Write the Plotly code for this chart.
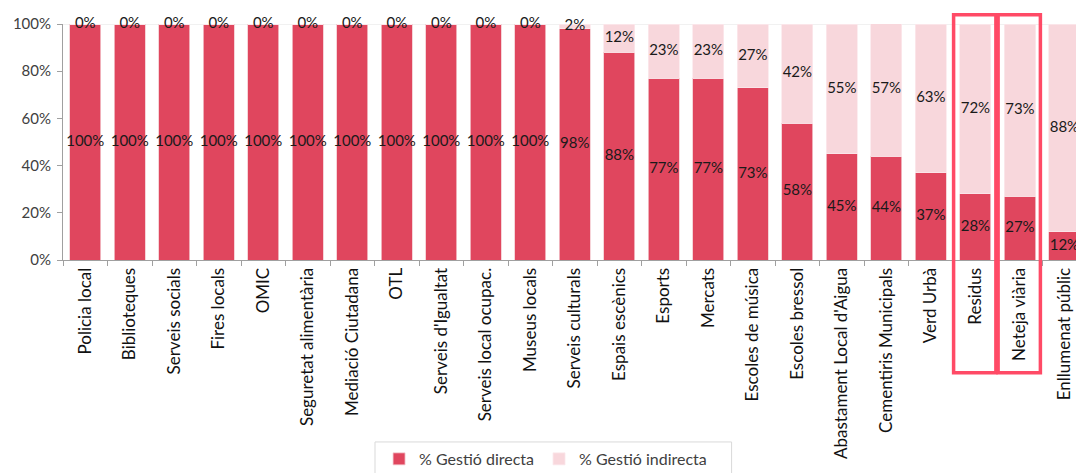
import plotly.graph_objects as go

categories = [
    "Policia local", "Biblioteques", "Serveis socials", "Fires locals", "OMIC",
    "Seguretat alimentària", "Mediació Ciutadana", "OTL", "Serveis d'Igualtat",
    "Serveis local ocupac.", "Museus locals", "Serveis culturals", "Espais escènics",
    "Esports", "Mercats", "Escoles de música", "Escoles bressol",
    "Abastament Local d'Aigua", "Cementiris Municipals", "Verd Urbà", "Residus",
    "Neteja viària", "Enllumenat públic",
]
directa = [100, 100, 100, 100, 100, 100, 100, 100, 100, 100, 100,
           98, 88, 77, 77, 73, 58, 45, 44, 37, 28, 27, 12]
indirecta = [0, 0, 0, 0, 0, 0, 0, 0, 0, 0, 0,
             2, 12, 23, 23, 27, 42, 55, 57, 63, 72, 73, 88]
highlighted = ["Residus", "Neteja viària"]

RED = "#E0465E"
PINK = "#F8D7DC"
FONT = "Lato"

fig = go.Figure()
fig.add_trace(go.Bar(x=categories, y=directa, name="% Gestió directa",
                     marker=dict(color=RED, line=dict(color="#F4C9D0", width=0.8))))
fig.add_trace(go.Bar(x=categories, y=indirecta, name="% Gestió indirecta",
                     marker=dict(color=PINK, line=dict(color="#FBE9EC", width=0.8))))

# value labels in the middle of each segment
fig.add_trace(go.Scatter(
    x=categories, y=[d / 2 for d in directa], mode="text",
    text=[f"{d}%" for d in directa], textfont=dict(family=FONT, size=15, color="#1a1a1a"),
    showlegend=False, cliponaxis=False, hoverinfo="skip"))
fig.add_trace(go.Scatter(
    x=categories, y=[d + i / 2 for d, i in zip(directa, indirecta)], mode="text",
    text=[f"{i}%" for i in indirecta], textfont=dict(family=FONT, size=15, color="#1a1a1a"),
    showlegend=False, cliponaxis=False, hoverinfo="skip"))

# boxes around the highlighted services
for name in highlighted:
    idx = categories.index(name)
    fig.add_shape(type="rect", xref="x", yref="paper",
                  x0=idx - 0.49, x1=idx + 0.46, y0=-0.478, y1=1.039,
                  line=dict(color="#FF4A66", width=3.5))

fig.add_shape(type="line", xref="paper", yref="y", x0=0, x1=1, y0=100, y1=100,
              line=dict(color="#E3E3E3", width=1), layer="below")
# legend frame
fig.add_shape(type="rect", xref="paper", yref="paper", x0=0.308, x1=0.660,
              y0=-0.98, y1=-0.771, line=dict(color="#D9D9D9", width=1))

fig.update_layout(
    width=1076, height=473,
    barmode="stack", bargap=0.30,
    margin=dict(l=63, r=0, t=24, b=213, autoexpand=False),
    plot_bgcolor="white", paper_bgcolor="white",
    font=dict(family=FONT, size=15, color="#404040"),
    legend=dict(orientation="h", traceorder="normal", x=0.312, xanchor="left",
                y=-0.771, yanchor="top", borderwidth=0, bgcolor="rgba(0,0,0,0)",
                font=dict(family=FONT, size=16, color="#404040")),
    xaxis=dict(range=[-0.5, 22.26], tickangle=-90, ticks="outside", tickson="boundaries",
               ticklen=5, tickcolor="#A0A0A0", showline=True, linecolor="#A0A0A0",
               linewidth=1, automargin=False,
               tickfont=dict(family=FONT, size=17, color="#111111")),
    yaxis=dict(range=[0, 100], tickvals=[0, 20, 40, 60, 80, 100],
               ticktext=["0%", "20%", "40%", "60%", "80%", "100%"],
               ticks="outside", ticklen=5, tickcolor="#A0A0A0", showline=True,
               linecolor="#A0A0A0", linewidth=1, showgrid=False, zeroline=False,
               automargin=False, ticklabelstandoff=3,
               tickfont=dict(family=FONT, size=15, color="#404040")),
)

fig.write_html("out.html", config={"displayModeBar": False},
               post_script="document.body.style.margin='0';document.body.style.overflow='hidden';")
